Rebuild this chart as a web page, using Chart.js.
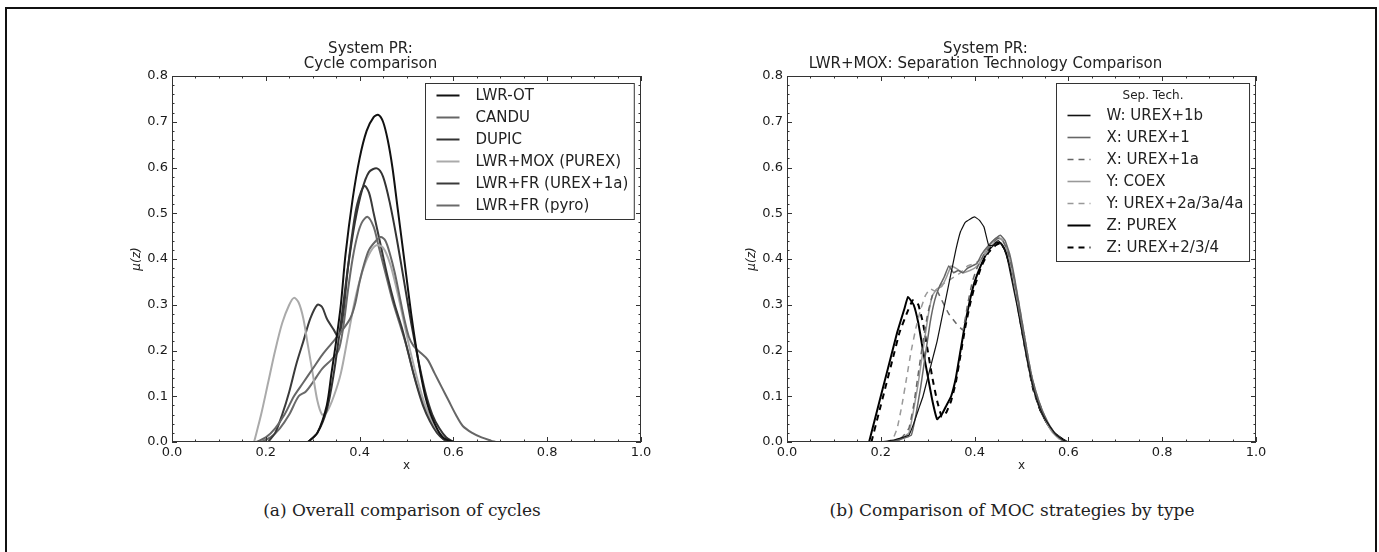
<!DOCTYPE html>
<html>
<head>
<meta charset="utf-8">
<script src="https://cdn.jsdelivr.net/npm/chart.js@4.4.0/dist/chart.umd.min.js"></script>
<style>
    body { margin: 0; background: #fff; width: 1379px; height: 552px; overflow: hidden; position: relative; font-family: "DejaVu Sans"; }
    #frame { position: absolute; left: 5px; top: 7px; width: 1368px; height: 600px; border: 2px solid #111; }
    .plot { position: absolute; top: 20px; width: 613px; height: 470px; }
    .cap { position: absolute; top: 500px; width: 600px; text-align: center; font: 17px "DejaVu Serif"; color: #222; }
</style>
</head>
<body>
<div id="frame"></div>
<div class="plot" style="left:100px"><canvas id="chart-a"></canvas></div>
<div class="plot" style="left:715px"><canvas id="chart-b"></canvas></div>
<div class="cap" style="left:102px">(a) Overall comparison of cycles</div>
<div class="cap" style="left:712px">(b) Comparison of MOC strategies by type</div>
<script>
// ---- dados ----
const xTicks = [0.0, 0.2, 0.4, 0.6, 0.8, 1.0];
const yTicks = [0.0, 0.1, 0.2, 0.3, 0.4, 0.5, 0.6, 0.7, 0.8];

const titleA = ['System PR:', 'Cycle comparison'];
const titleB = ['System PR:', 'LWR+MOX: Separation Technology Comparison'];
const legendTitleB = 'Sep. Tech.';

// (a) ciclos
const lwrOT = [[0.29,0],[0.31,0.02],[0.33,0.08],[0.34,0.15],[0.35,0.22],[0.36,0.3],[0.37,0.41],[0.385,0.53],[0.40,0.62],[0.415,0.68],[0.43,0.71],[0.44,0.715],[0.45,0.7],[0.46,0.66],[0.47,0.6],[0.48,0.52],[0.49,0.44],[0.50,0.36],[0.51,0.28],[0.52,0.21],[0.53,0.15],[0.54,0.1],[0.55,0.065],[0.56,0.04],[0.57,0.02],[0.58,0.008],[0.6,0]];
const candu = [[0.18,0],[0.2,0.01],[0.22,0.03],[0.24,0.06],[0.26,0.1],[0.28,0.13],[0.3,0.16],[0.32,0.19],[0.34,0.215],[0.36,0.24],[0.38,0.27],[0.39,0.3],[0.4,0.35],[0.41,0.39],[0.42,0.42],[0.435,0.44],[0.445,0.448],[0.455,0.44],[0.465,0.41],[0.475,0.37],[0.485,0.32],[0.495,0.27],[0.505,0.23],[0.515,0.21],[0.53,0.195],[0.545,0.18],[0.56,0.15],[0.575,0.12],[0.59,0.09],[0.605,0.06],[0.62,0.035],[0.64,0.02],[0.66,0.01],[0.68,0.003],[0.69,0]];
const dupic = [[0.29,0],[0.31,0.02],[0.33,0.07],[0.345,0.15],[0.36,0.26],[0.375,0.38],[0.39,0.48],[0.405,0.55],[0.42,0.59],[0.437,0.598],[0.45,0.58],[0.465,0.52],[0.48,0.44],[0.495,0.35],[0.51,0.26],[0.525,0.18],[0.54,0.11],[0.555,0.06],[0.57,0.03],[0.585,0.01],[0.6,0]];
const lwrMox = [[0.175,0],[0.19,0.06],[0.205,0.13],[0.22,0.2],[0.235,0.26],[0.25,0.3],[0.26,0.315],[0.27,0.305],[0.28,0.27],[0.29,0.21],[0.30,0.15],[0.31,0.09],[0.32,0.06],[0.33,0.065],[0.345,0.1],[0.36,0.15],[0.375,0.23],[0.39,0.31],[0.405,0.37],[0.42,0.41],[0.435,0.43],[0.45,0.425],[0.465,0.39],[0.48,0.33],[0.495,0.26],[0.51,0.19],[0.525,0.13],[0.54,0.08],[0.555,0.045],[0.57,0.02],[0.59,0.005],[0.6,0]];
const lwrFrUrex = [[0.205,0],[0.22,0.02],[0.235,0.06],[0.25,0.11],[0.265,0.17],[0.28,0.22],[0.295,0.27],[0.31,0.3],[0.32,0.295],[0.33,0.27],[0.345,0.245],[0.355,0.23],[0.365,0.28],[0.375,0.38],[0.385,0.46],[0.395,0.52],[0.41,0.56],[0.42,0.545],[0.43,0.5],[0.445,0.43],[0.46,0.36],[0.475,0.3],[0.49,0.25],[0.505,0.19],[0.52,0.13],[0.535,0.08],[0.55,0.045],[0.565,0.02],[0.58,0.005],[0.59,0]];
const lwrFrPyro = [[0.19,0],[0.21,0.01],[0.23,0.03],[0.25,0.06],[0.27,0.1],[0.285,0.11],[0.3,0.13],[0.32,0.16],[0.34,0.18],[0.355,0.2],[0.365,0.25],[0.375,0.33],[0.385,0.4],[0.395,0.45],[0.405,0.48],[0.417,0.492],[0.43,0.47],[0.44,0.43],[0.455,0.37],[0.47,0.31],[0.485,0.26],[0.5,0.21],[0.515,0.15],[0.53,0.1],[0.545,0.06],[0.56,0.03],[0.575,0.01],[0.59,0]];

// (b) tecnologias de separacao
const wUrex1b = [[0.2,0],[0.23,0.005],[0.26,0.015],[0.27,0.04],[0.28,0.07],[0.29,0.1],[0.30,0.14],[0.31,0.18],[0.32,0.22],[0.33,0.27],[0.34,0.32],[0.35,0.37],[0.36,0.42],[0.37,0.46],[0.38,0.48],[0.39,0.487],[0.40,0.492],[0.41,0.485],[0.42,0.47],[0.43,0.43],[0.44,0.43],[0.45,0.44],[0.46,0.43],[0.47,0.4],[0.48,0.35],[0.49,0.3],[0.5,0.245],[0.51,0.19],[0.52,0.14],[0.53,0.1],[0.545,0.06],[0.56,0.035],[0.575,0.015],[0.59,0.004],[0.6,0]];
const xUrex1 = [[0.21,0],[0.24,0.005],[0.265,0.015],[0.275,0.06],[0.285,0.12],[0.295,0.19],[0.305,0.26],[0.315,0.31],[0.325,0.34],[0.335,0.36],[0.345,0.385],[0.355,0.37],[0.365,0.375],[0.375,0.37],[0.385,0.38],[0.395,0.385],[0.405,0.39],[0.415,0.41],[0.43,0.43],[0.445,0.445],[0.455,0.452],[0.465,0.44],[0.475,0.41],[0.485,0.36],[0.495,0.3],[0.505,0.24],[0.515,0.18],[0.525,0.13],[0.54,0.08],[0.555,0.045],[0.57,0.02],[0.585,0.006],[0.6,0]];
const xUrex1a = [[0.22,0],[0.245,0.01],[0.26,0.03],[0.27,0.08],[0.28,0.15],[0.29,0.22],[0.30,0.28],[0.31,0.32],[0.32,0.33],[0.33,0.31],[0.345,0.28],[0.36,0.26],[0.375,0.245],[0.385,0.3],[0.395,0.35],[0.405,0.38],[0.42,0.41],[0.435,0.43],[0.45,0.445],[0.46,0.44],[0.47,0.42],[0.48,0.38],[0.49,0.32],[0.5,0.26],[0.51,0.2],[0.52,0.15],[0.535,0.095],[0.55,0.055],[0.565,0.025],[0.58,0.008],[0.595,0]];
const yCoex = [[0.21,0],[0.24,0.005],[0.26,0.02],[0.27,0.07],[0.28,0.13],[0.29,0.2],[0.30,0.27],[0.31,0.32],[0.32,0.335],[0.33,0.34],[0.34,0.36],[0.35,0.385],[0.36,0.38],[0.375,0.37],[0.39,0.375],[0.40,0.38],[0.41,0.39],[0.425,0.42],[0.44,0.44],[0.45,0.448],[0.46,0.44],[0.47,0.415],[0.48,0.37],[0.49,0.31],[0.5,0.25],[0.51,0.19],[0.52,0.14],[0.535,0.085],[0.55,0.05],[0.565,0.022],[0.58,0.007],[0.595,0]];
const yUrex2a = [[0.21,0],[0.225,0.005],[0.235,0.03],[0.245,0.08],[0.255,0.14],[0.265,0.2],[0.275,0.25],[0.285,0.29],[0.295,0.32],[0.305,0.335],[0.315,0.33],[0.325,0.34],[0.34,0.35],[0.355,0.36],[0.37,0.37],[0.385,0.385],[0.4,0.39],[0.415,0.4],[0.43,0.42],[0.445,0.44],[0.455,0.445],[0.465,0.435],[0.475,0.4],[0.485,0.355],[0.495,0.3],[0.505,0.24],[0.515,0.18],[0.525,0.13],[0.54,0.08],[0.555,0.045],[0.57,0.02],[0.585,0.006],[0.6,0]];
const zPurex = [[0.175,0],[0.19,0.06],[0.205,0.12],[0.22,0.18],[0.235,0.24],[0.25,0.29],[0.258,0.317],[0.27,0.3],[0.28,0.26],[0.29,0.2],[0.3,0.145],[0.31,0.09],[0.32,0.05],[0.33,0.06],[0.34,0.08],[0.35,0.1],[0.36,0.14],[0.37,0.2],[0.38,0.26],[0.39,0.31],[0.40,0.35],[0.415,0.39],[0.43,0.42],[0.445,0.435],[0.455,0.435],[0.465,0.42],[0.475,0.39],[0.485,0.34],[0.495,0.29],[0.505,0.23],[0.515,0.17],[0.525,0.12],[0.54,0.07],[0.555,0.04],[0.57,0.02],[0.585,0.008],[0.597,0]];
const zUrex234 = [[0.18,0],[0.195,0.06],[0.21,0.12],[0.225,0.18],[0.24,0.24],[0.255,0.28],[0.268,0.31],[0.28,0.3],[0.29,0.26],[0.3,0.2],[0.31,0.14],[0.32,0.09],[0.33,0.055],[0.34,0.065],[0.35,0.09],[0.36,0.13],[0.37,0.19],[0.38,0.25],[0.39,0.3],[0.40,0.34],[0.415,0.385],[0.43,0.415],[0.445,0.43],[0.455,0.435],[0.465,0.42],[0.475,0.385],[0.485,0.34],[0.495,0.28],[0.505,0.22],[0.515,0.165],[0.525,0.115],[0.54,0.07],[0.555,0.04],[0.57,0.02],[0.585,0.007],[0.597,0]];

const FONT = '"DejaVu Sans", sans-serif';

function serie(label, pts, color, width, dash, tension) {
    return {
        label: label,
        data: pts.map(p => ({ x: p[0], y: p[1] })),
        borderColor: color,
        borderWidth: width,
        borderDash: dash || [],
        pointRadius: 0,
        tension: tension,
        fill: false
    };
}

// moldura + ticks para dentro, nos quatro lados
const frameTicks = {
    id: 'frameTicks',
    afterDraw(chart) {
        const { ctx, chartArea: a, scales: { x, y } } = chart;
        ctx.save();
        ctx.strokeStyle = '#333';
        ctx.lineWidth = 1;
        ctx.strokeRect(a.left + 0.5, a.top + 0.5, a.right - a.left - 1, a.bottom - a.top - 1);
        ctx.beginPath();
        for (let i = 0; i <= 20; i++) {
            const px = Math.round(x.getPixelForValue(i * 0.05)) + 0.5;
            const len = i % 4 === 0 ? 5 : 2.5;
            ctx.moveTo(px, a.bottom); ctx.lineTo(px, a.bottom - len);
            ctx.moveTo(px, a.top); ctx.lineTo(px, a.top + len);
        }
        for (let i = 0; i <= 40; i++) {
            const py = Math.round(y.getPixelForValue(i * 0.02)) + 0.5;
            const len = i % 5 === 0 ? 5 : 2.5;
            ctx.moveTo(a.left, py); ctx.lineTo(a.left + len, py);
            ctx.moveTo(a.right, py); ctx.lineTo(a.right - len, py);
        }
        ctx.stroke();
        ctx.restore();
    }
};

// legenda com caixa, estilo matplotlib
function boxLegend(title) {
    return {
        id: 'boxLegend',
        afterDraw(chart) {
            const { ctx, chartArea: a } = chart;
            const sets = chart.data.datasets;
            ctx.save();
            ctx.font = '15px ' + FONT;
            const textW = Math.max(...sets.map(d => ctx.measureText(d.label).width));
            const head = title ? 20 : 0;
            const boxW = 50 + textW + 6;
            const boxH = 12 + head + 22 * (sets.length - 1) + 14;
            const bx = Math.round(a.right - 7 - boxW) + 0.5;
            const by = Math.round(a.top + 7) + 0.5;
            ctx.fillStyle = '#fff';
            ctx.fillRect(bx, by, boxW, boxH);
            ctx.strokeStyle = '#333';
            ctx.lineWidth = 1;
            ctx.strokeRect(bx, by, boxW, boxH);
            ctx.textBaseline = 'middle';
            if (title) {
                ctx.font = '12px ' + FONT;
                ctx.fillStyle = '#222';
                ctx.textAlign = 'center';
                ctx.fillText(title, bx + boxW / 2, by + 12);
            }
            ctx.font = '15px ' + FONT;
            ctx.textAlign = 'left';
            sets.forEach((d, i) => {
                const ly = by + 12 + head + 22 * i;
                ctx.beginPath();
                ctx.strokeStyle = d.borderColor;
                ctx.lineWidth = Math.max(d.borderWidth, 1.6);
                ctx.setLineDash(d.borderDash);
                ctx.moveTo(bx + 11, ly); ctx.lineTo(bx + 34, ly);
                ctx.stroke();
                ctx.setLineDash([]);
                ctx.fillStyle = '#222';
                ctx.fillText(d.label, bx + 50, ly + 1);
            });
            ctx.restore();
        }
    };
}

function makeChart(id, titleLines, datasets, legendTitle) {
    return new Chart(document.getElementById(id), {
        type: 'line',
        data: { datasets: datasets },
        options: {
            responsive: true,
            maintainAspectRatio: false,
            animation: false,
            layout: { padding: { top: 22, right: 72, bottom: 14, left: 0 } },
            plugins: {
                legend: { display: false },
                tooltip: { enabled: false },
                title: {
                    display: true,
                    text: titleLines,
                    color: '#222',
                    font: { family: FONT, size: 15, weight: 'normal', lineHeight: 1.0 },
                    padding: { top: 0, bottom: 4 }
                }
            },
            scales: {
                x: {
                    type: 'linear', min: 0, max: 1,
                    afterBuildTicks: s => { s.ticks = xTicks.map(v => ({ value: v })); },
                    afterFit: s => { s.height = 34; },
                    grid: { display: false, drawTicks: false },
                    border: { display: false },
                    ticks: { padding: 3, color: '#1a1a1a', font: { family: FONT, size: 13 }, callback: v => v.toFixed(1), maxRotation: 0 },
                    title: { display: true, text: 'x', color: '#222', font: { family: FONT, size: 12 }, padding: { top: 0, bottom: 3 } }
                },
                y: {
                    type: 'linear', min: 0, max: 0.8,
                    afterBuildTicks: s => { s.ticks = yTicks.map(v => ({ value: v })); },
                    afterFit: s => { s.width = 72; },
                    grid: { display: false, drawTicks: false },
                    border: { display: false },
                    ticks: { padding: 4, color: '#1a1a1a', font: { family: FONT, size: 13 }, callback: v => v.toFixed(1) },
                    title: { display: true, text: 'μ(z)', color: '#222', font: { family: FONT, size: 12, style: 'italic' }, padding: { top: 30, bottom: 0 } }
                }
            }
        },
        plugins: [frameTicks, boxLegend(legendTitle)]
    });
}

makeChart('chart-a', titleA, [
    serie('LWR-OT', lwrOT, '#111', 2, null, 0.3),
    serie('CANDU', candu, '#666', 2, null, 0.3),
    serie('DUPIC', dupic, '#333', 2, null, 0.3),
    serie('LWR+MOX (PUREX)', lwrMox, '#aaa', 2, null, 0.3),
    serie('LWR+FR (UREX+1a)', lwrFrUrex, '#3a3a3a', 2, null, 0.3),
    serie('LWR+FR (pyro)', lwrFrPyro, '#6a6a6a', 2, null, 0.3)
], null);

makeChart('chart-b', titleB, [
    serie('W: UREX+1b', wUrex1b, '#111', 1.2, null, 0.1),
    serie('X: UREX+1', xUrex1, '#666', 1.5, null, 0.1),
    serie('X: UREX+1a', xUrex1a, '#666', 1.5, [6, 5], 0.1),
    serie('Y: COEX', yCoex, '#999', 1.5, null, 0.1),
    serie('Y: UREX+2a/3a/4a', yUrex2a, '#999', 1.5, [6, 5], 0.1),
    serie('Z: PUREX', zPurex, '#000', 2, null, 0.1),
    serie('Z: UREX+2/3/4', zUrex234, '#000', 2, [6, 5], 0.1)
], legendTitleB);
</script>
</body>
</html>
